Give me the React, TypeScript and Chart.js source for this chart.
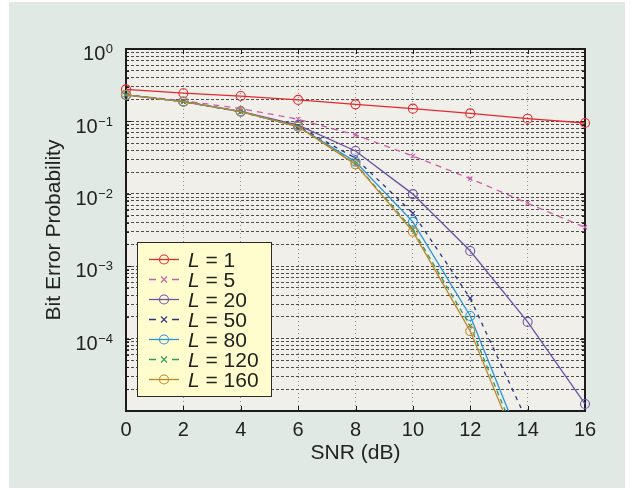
import React, { useEffect, useRef } from 'react';
import { Chart, registerables } from 'chart.js';

Chart.register(...registerables);

// ---------------- data ----------------
const snrDb = [0, 2, 4, 6, 8, 10, 12, 14, 16];
const xTickStep = 2;

const berL1 = [0.277, 0.245, 0.224, 0.198, 0.172, 0.150, 0.129, 0.109, 0.095];
const berL5 = [0.232, 0.193, 0.150, 0.107, 0.065, 0.0333, 0.0162, 0.0074, 0.00344];
const berL20 = [0.232, 0.188, 0.138, 0.089, 0.039, 0.0099, 0.00162, 0.00017, 0.0000125];
const berL50 = [0.232, 0.187, 0.136, 0.086, 0.031, 0.0054, 0.00036, 0.000007, null];
const berL80 = [0.232, 0.187, 0.136, 0.0845, 0.0277, 0.0041, 0.000205, 0.0000022, null];
const berL120 = [0.232, 0.187, 0.136, 0.0845, 0.026, 0.0032, 0.00015, 0.0000018, null];
const berL160 = [0.232, 0.187, 0.136, 0.0845, 0.0255, 0.0030, 0.000127, 0.0000015, null];

const seriesL = ['1', '5', '20', '50', '80', '120', '160'];
const seriesValues = [berL1, berL5, berL20, berL50, berL80, berL120, berL160];

const yTickExponents = [0, -1, -2, -3, -4];
const yMinExp = -5;
const yMaxExp = 0;

const xAxisTitle = 'SNR (dB)';
const yAxisTitle = 'Bit Error Probability';

// ---------------- styles ----------------
const FONT = "'Liberation Sans', Arial, Helvetica, sans-serif";
const TEXT = '#222222';

const seriesStyles = [
  { color: '#e42a2f', dash: [] as number[], marker: 'circle' },
  { color: '#c95fa8', dash: [6, 5], marker: 'crossRot' },
  { color: '#6a52a6', dash: [] as number[], marker: 'circle' },
  { color: '#2a3482', dash: [4, 5], marker: 'crossRot' },
  { color: '#2a96d6', dash: [] as number[], marker: 'circle' },
  { color: '#2f9a62', dash: [5, 4], marker: 'crossRot' },
  { color: '#c0882c', dash: [] as number[], marker: 'circle' },
];

// grid values of the log axis (1..9 x 10^e)
const yGridValues: number[] = [];
for (let e = yMinExp; e < yMaxExp; e++) {
  for (let m = 1; m <= 9; m++) yGridValues.push(Number((m * Math.pow(10, e)).toPrecision(6)));
}
yGridValues.push(Math.pow(10, yMaxExp));

const decorPlugin = {
  id: 'decor',
  beforeDraw(chart: any) {
    const { ctx, chartArea: a, width, height } = chart;
    ctx.save();
    ctx.fillStyle = '#ffffff';
    ctx.fillRect(0, 0, width, height);
    ctx.fillStyle = '#e1e9e4';
    ctx.fillRect(9, 2, 616, 486);
    ctx.fillStyle = '#f1efea';
    ctx.fillRect(a.left, a.top, a.right - a.left, a.bottom - a.top);
    ctx.restore();
  },
  beforeDatasetsDraw(chart: any) {
    const { ctx, chartArea: a } = chart;
    const xs = chart.scales.x;
    const ys = chart.scales.y;
    ctx.save();
    ctx.strokeStyle = '#1c1c1c';
    ctx.lineWidth = 1;
    // inner tick marks
    ctx.beginPath();
    for (const t of xs.ticks) {
      const px = Math.round(xs.getPixelForValue(t.value)) + 0.5;
      ctx.moveTo(px, a.bottom);
      ctx.lineTo(px, a.bottom - 5);
      ctx.moveTo(px, a.top);
      ctx.lineTo(px, a.top + 5);
    }
    for (const t of ys.ticks) {
      const py = Math.round(ys.getPixelForValue(t.value)) + 0.5;
      const major = Math.abs(Math.log10(t.value) - Math.round(Math.log10(t.value))) < 1e-9;
      const len = major ? 5 : 3;
      ctx.moveTo(a.left, py);
      ctx.lineTo(a.left + len, py);
      ctx.moveTo(a.right, py);
      ctx.lineTo(a.right - len, py);
    }
    ctx.stroke();
    // frame
    ctx.lineWidth = 2;
    ctx.strokeRect(a.left, a.top, a.right - a.left, a.bottom - a.top);

    // y tick labels with superscripts
    ctx.fillStyle = TEXT;
    ctx.textAlign = 'left';
    ctx.textBaseline = 'alphabetic';
    const right = a.left - 13;
    for (const e of yTickExponents) {
      const py = ys.getPixelForValue(Math.pow(10, e));
      const expText = e === 0 ? '0' : '\u2212' + Math.abs(e);
      ctx.font = `13px ${FONT}`;
      const ew = ctx.measureText(expText).width;
      ctx.fillText(expText, right - ew, py + 4.2);
      ctx.font = `20px ${FONT}`;
      const bw = ctx.measureText('10').width;
      ctx.fillText('10', right - ew - bw - 0.5, py + 11.2);
    }
    ctx.restore();
  },
  afterDraw(chart: any) {
    const { ctx } = chart;
    const bx = 137, by = 242, bw = 135, bh = 155;
    ctx.save();
    ctx.fillStyle = '#fffccd';
    ctx.fillRect(bx, by, bw, bh);
    ctx.strokeStyle = '#2a2a2a';
    ctx.lineWidth = 1;
    ctx.strokeRect(bx + 0.5, by + 0.5, bw - 1, bh - 1);
    chart.data.datasets.forEach((ds: any, i: number) => {
      const st = seriesStyles[i];
      const y = by + 17 + 20 * i;
      ctx.strokeStyle = st.color;
      ctx.lineWidth = 1.3;
      ctx.setLineDash(st.dash.length ? [7, 16] : []);
      ctx.beginPath();
      ctx.moveTo(149, y + 0.5);
      ctx.lineTo(179, y + 0.5);
      ctx.stroke();
      ctx.setLineDash([]);
      ctx.lineWidth = 1.1;
      ctx.beginPath();
      if (st.marker === 'circle') {
        ctx.arc(164, y + 0.5, 4.5, 0, Math.PI * 2);
      } else {
        const r = 3;
        ctx.moveTo(164 - r, y + 0.5 - r);
        ctx.lineTo(164 + r, y + 0.5 + r);
        ctx.moveTo(164 - r, y + 0.5 + r);
        ctx.lineTo(164 + r, y + 0.5 - r);
      }
      ctx.stroke();
      ctx.fillStyle = TEXT;
      ctx.textAlign = 'left';
      ctx.textBaseline = 'alphabetic';
      ctx.font = `italic 21px ${FONT}`;
      ctx.fillText('L', 188, y + 7.5);
      const lw = ctx.measureText('L').width;
      ctx.font = `21px ${FONT}`;
      ctx.fillText(' = ' + seriesL[i], 188 + lw, y + 7.5);
    });
    ctx.restore();
  },
};

export default function App() {
  const canvasRef = useRef<HTMLCanvasElement | null>(null);

  useEffect(() => {
    if (!canvasRef.current) return;
    const n = seriesValues.length;
    const datasets = seriesValues.map((vals, i) => {
      const st = seriesStyles[i];
      return {
        label: `L = ${seriesL[i]}`,
        data: snrDb.map((x, j) => ({ x, y: vals[j] })),
        borderColor: st.color,
        backgroundColor: 'rgba(0,0,0,0)',
        borderWidth: 1.3,
        borderDash: st.dash,
        pointStyle: st.marker,
        pointRadius: st.marker === 'circle' ? 4.5 : 3,
        pointBorderWidth: 1.1,
        pointBorderColor: st.color,
        pointBackgroundColor: 'rgba(0,0,0,0)',
        tension: 0,
        spanGaps: false,
        order: n - i,
        clip: { left: 8, top: 8, right: 8, bottom: 0 },
      };
    });

    const chart = new Chart(canvasRef.current, {
      type: 'line',
      data: { datasets } as any,
      plugins: [decorPlugin],
      options: {
        responsive: false,
        animation: false,
        events: [],
        layout: { padding: { top: 49, right: 48, bottom: 0, left: 0 } },
        plugins: { legend: { display: false }, tooltip: { enabled: false }, title: { display: false } },
        scales: {
          x: {
            type: 'linear',
            min: snrDb[0],
            max: snrDb[snrDb.length - 1],
            afterFit: (scale: any) => { scale.height = 79; },
            ticks: {
              stepSize: xTickStep,
              padding: 7,
              color: TEXT,
              font: { family: FONT, size: 20 },
              maxRotation: 0,
            },
            grid: { color: '#8e8e8e', lineWidth: 1, drawTicks: false },
            border: { display: false, dash: [1, 3] },
            title: {
              display: true,
              text: xAxisTitle,
              color: TEXT,
              font: { family: FONT, size: 21 },
              padding: { top: 0, bottom: 24 },
            },
          },
          y: {
            type: 'logarithmic',
            min: Math.pow(10, yMinExp),
            max: Math.pow(10, yMaxExp),
            afterBuildTicks: (scale: any) => { scale.ticks = yGridValues.map((v) => ({ value: v })); },
            afterFit: (scale: any) => { scale.width = 126; },
            ticks: { display: false },
            grid: { color: '#4e4e4e', lineWidth: 1, drawTicks: false },
            border: { display: false, dash: [3, 2] },
            title: {
              display: true,
              text: yAxisTitle,
              color: TEXT,
              font: { family: FONT, size: 21 },
              padding: { top: 42, bottom: 0 },
            },
          },
        },
      } as any,
    });
    return () => chart.destroy();
  }, []);

  return (
    <div style={{ position: 'absolute', left: 0, top: 0, width: 633, height: 490 }}>
      <canvas ref={canvasRef} width={633} height={490} style={{ width: 633, height: 490, display: 'block' }} />
    </div>
  );
}
